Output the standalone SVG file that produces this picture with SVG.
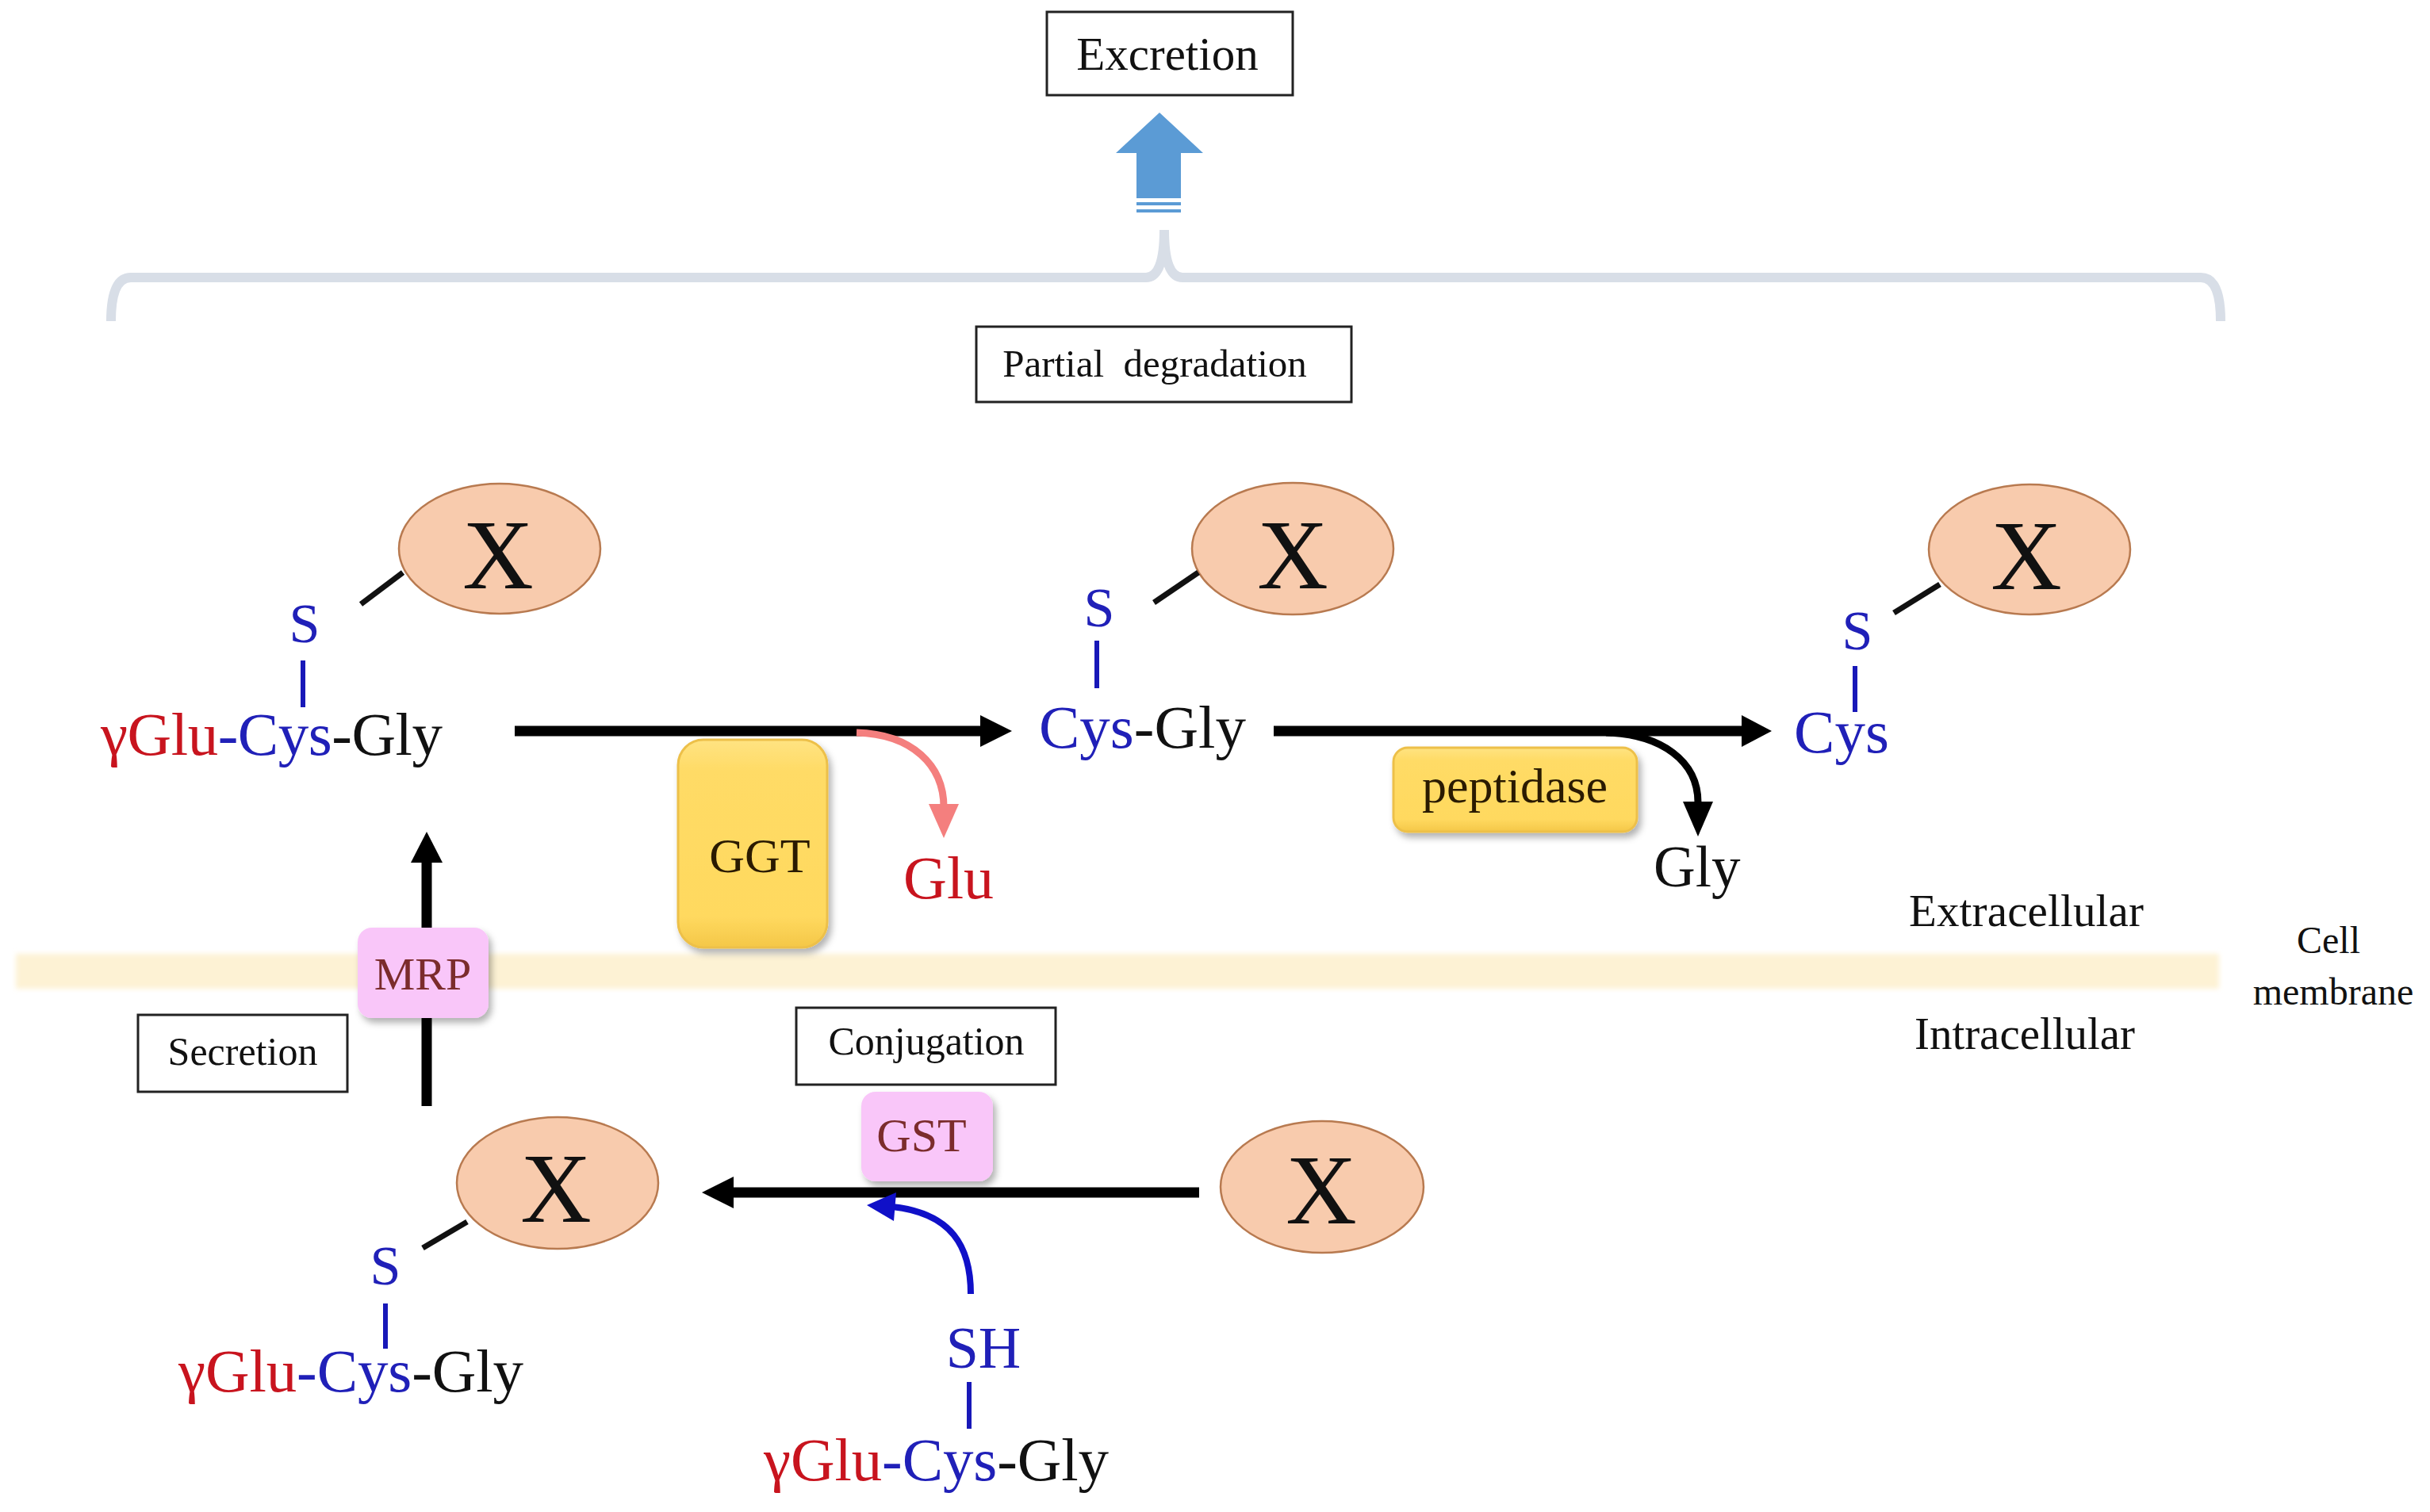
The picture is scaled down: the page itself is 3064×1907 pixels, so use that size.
<svg xmlns="http://www.w3.org/2000/svg" width="3064" height="1907" viewBox="0 0 3064 1907">
<style>
text{font-family:"Liberation Serif","Times New Roman",serif;}
.box{fill:#fff;stroke:#222;stroke-width:3;}
.lbl{font-size:50px;fill:#111;text-anchor:middle;}
.mol{font-size:77px;}
.red{fill:#C8141E;}
.blu{fill:#2020B8;}
.blk{fill:#111;}
.ell{fill:#F8CBAD;stroke:#B87A50;stroke-width:2.5;}
.xl{font-size:124px;fill:#111;text-anchor:middle;}
.sb{font-size:70px;fill:#2020B8;text-anchor:middle;}
.bond{stroke:#1818B8;stroke-width:6;}
.kbond{stroke:#111;stroke-width:7;}
.main{stroke:#000;stroke-width:13;fill:none;}
.gold{fill:url(#goldg);stroke:#EDC04A;stroke-width:3;filter:url(#shd);}
.pink{fill:#F9C6F9;filter:url(#shd);}
.enz{font-size:62px;fill:#2A1A00;text-anchor:middle;}
.tr{font-size:58px;fill:#7B2C2C;text-anchor:middle;}
.reg{font-size:57px;fill:#111;}
</style>
<defs>
<linearGradient id="goldg" x1="0" y1="0" x2="0" y2="1">
<stop offset="0" stop-color="#FFE382"/>
<stop offset="0.15" stop-color="#FFDB66"/>
<stop offset="0.85" stop-color="#FFD95F"/>
<stop offset="1" stop-color="#F4C748"/>
</linearGradient>
<filter id="shd" x="-20%" y="-20%" width="140%" height="140%">
<feDropShadow dx="4" dy="6" stdDeviation="4" flood-color="#000" flood-opacity="0.3"/>
</filter>
<filter id="soft" x="-5%" y="-50%" width="110%" height="200%">
<feGaussianBlur stdDeviation="3"/>
</filter>
</defs>
<rect width="3064" height="1907" fill="#fff"/>

<g id="membrane">
<rect x="20" y="1203" width="2778" height="44" fill="#FDF2D4" filter="url(#soft)"/>
</g>

<g id="brace">
<path d="M140,405 Q140,350 165,350 L1445,350 Q1468,350 1468,290 Q1468,350 1491,350 L2775,350 Q2800,350 2800,405" fill="none" stroke="#D8DEE7" stroke-width="12"/>
</g>

<g id="excretion-arrow">
<polygon points="1462,142 1517,193 1489,193 1489,250 1433,250 1433,193 1407,193" fill="#5B9BD5"/>
<rect x="1433" y="255" width="56" height="4" fill="#5B9BD5"/>
<rect x="1433" y="264" width="56" height="4" fill="#5B9BD5"/>
</g>

<g id="excretion">
<rect class="box" x="1320" y="15" width="310" height="105"/>
<text class="lbl" x="1472" y="88" style="font-size:59px">Excretion</text>
</g>

<g id="partial-degradation">
<rect class="box" x="1231" y="412" width="473" height="95"/>
<text class="lbl" x="1456" y="475" style="font-size:49px;white-space:pre" xml:space="preserve">Partial  degradation</text>
</g>

<g id="connectors">
<line class="main" x1="649" y1="922" x2="1240" y2="922"/>
<polygon points="1276,922 1236,902 1236,942"/>
<line class="main" x1="1606" y1="922" x2="2200" y2="922"/>
<polygon points="2234,922 2196,902 2196,942"/>
<line class="main" x1="1512" y1="1504" x2="920" y2="1504"/>
<polygon points="885,1504 925,1484 925,1524"/>
<line class="main" x1="538" y1="1395" x2="538" y2="1083"/>
<polygon points="538,1049 518,1088 558,1088"/>
<path d="M1080,924 C1150,926 1190,965 1190,1018" fill="none" stroke="#F47F7E" stroke-width="9"/>
<polygon points="1171,1014 1209,1014 1190,1057" fill="#F47F7E"/>
<path d="M2025,924 C2095,926 2141,960 2141,1012" fill="none" stroke="#000" stroke-width="9"/>
<polygon points="2122,1011 2160,1011 2141,1055"/>
<path d="M1224,1632 C1224,1572 1200,1530 1125,1522" fill="none" stroke="#1010C8" stroke-width="8"/>
<polygon points="1093,1520 1130,1504 1127,1540" fill="#1010C8"/>
</g>

<g id="ggt">
<rect class="gold" x="855" y="933" width="188" height="262" rx="32"/>
<text class="enz" x="958" y="1100">GGT</text>
</g>

<g id="peptidase">
<rect class="gold" x="1757" y="943" width="307" height="106" rx="18"/>
<text class="enz" x="1910" y="1012">peptidase</text>
</g>

<g id="mrp">
<rect class="pink" x="451" y="1170" width="165" height="114" rx="18"/>
<text class="tr" x="533" y="1248">MRP</text>
</g>

<g id="gst">
<rect class="pink" x="1086" y="1377" width="166" height="113" rx="18"/>
<text class="tr" x="1162" y="1452" style="font-size:60px">GST</text>
</g>

<g id="secretion">
<rect class="box" x="174" y="1280" width="264" height="97"/>
<text class="lbl" x="306" y="1343">Secretion</text>
</g>

<g id="conjugation">
<rect class="box" x="1004" y="1271" width="327" height="97"/>
<text class="lbl" x="1168" y="1330">Conjugation</text>
</g>

<g id="glu">
<text class="red" x="1139" y="1133" style="font-size:76px">Glu</text>
</g>

<g id="gly">
<text class="blk" x="2085" y="1118" style="font-size:73px">Gly</text>
</g>

<g id="gsx-extracellular">
<ellipse class="ell" cx="630" cy="692" rx="127" ry="82"/>
<text class="xl" x="628" y="742">X</text>
<line class="kbond" x1="455" y1="762" x2="508" y2="722"/>
<text class="sb" x="384" y="810">S</text>
<line class="bond" x1="382" y1="833" x2="382" y2="892"/>
<text class="mol" x="127" y="952" textLength="431"><tspan class="red">γGlu</tspan><tspan class="blu">-Cys</tspan><tspan class="blk">-Gly</tspan></text>
</g>

<g id="cysgly-x">
<ellipse class="ell" cx="1630" cy="692" rx="127" ry="83"/>
<text class="xl" x="1630" y="742">X</text>
<line class="kbond" x1="1455" y1="760" x2="1511" y2="722"/>
<text class="sb" x="1386" y="790">S</text>
<line class="bond" x1="1383" y1="808" x2="1383" y2="868"/>
<text class="mol" x="1310" y="943" textLength="261"><tspan class="blu">Cys</tspan><tspan class="blk">-Gly</tspan></text>
</g>

<g id="cys-x">
<ellipse class="ell" cx="2559" cy="693" rx="127" ry="82"/>
<text class="xl" x="2555" y="743">X</text>
<line class="kbond" x1="2388" y1="773" x2="2446" y2="737"/>
<text class="sb" x="2342" y="819">S</text>
<line class="bond" x1="2339" y1="840" x2="2339" y2="898"/>
<text class="mol blu" x="2262" y="949" textLength="120">Cys</text>
</g>

<g id="gsx-intracellular">
<ellipse class="ell" cx="703" cy="1492" rx="127" ry="83"/>
<text class="xl" x="701" y="1541">X</text>
<line class="kbond" x1="533" y1="1574" x2="589" y2="1541"/>
<text class="sb" x="486" y="1620">S</text>
<line class="bond" x1="486" y1="1644" x2="486" y2="1701"/>
<text class="mol" x="225" y="1755" textLength="435"><tspan class="red">γGlu</tspan><tspan class="blu">-Cys</tspan><tspan class="blk">-Gly</tspan></text>
</g>

<g id="x-free">
<ellipse class="ell" cx="1667" cy="1497" rx="128" ry="83"/>
<text class="xl" x="1666" y="1543">X</text>
</g>

<g id="gsh">
<text class="sb" x="1240" y="1725" style="font-size:74px">SH</text>
<line class="bond" x1="1222" y1="1743" x2="1222" y2="1802"/>
<text class="mol" x="963" y="1867" textLength="435"><tspan class="red">γGlu</tspan><tspan class="blu">-Cys</tspan><tspan class="blk">-Gly</tspan></text>
</g>

<g id="regions">
<text class="reg" x="2407" y="1168" textLength="296">Extracellular</text>
<text class="reg" x="2414" y="1323" textLength="278">Intracellular</text>
<text class="lbl" x="2936" y="1202" style="font-size:48px">Cell</text>
<text class="lbl" x="2942" y="1267" style="font-size:48px">membrane</text>
</g>
</svg>
